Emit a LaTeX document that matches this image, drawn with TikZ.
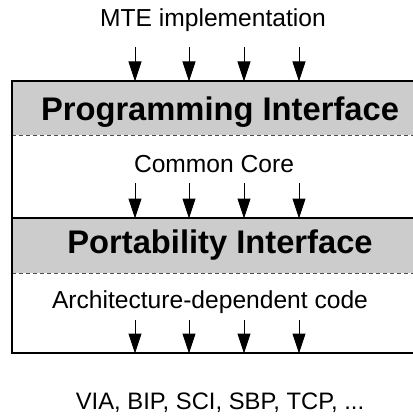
\documentclass[tikz,border=0pt]{standalone}
\usepackage{fontspec}
\setmainfont{Liberation Sans}
\usetikzlibrary{arrows.meta}
\definecolor{bandgray}{gray}{0.8}

\tikzset{
	label text/.style={anchor=base, inner sep=0pt, font=\fontsize{24.6}{28}\selectfont},
	layer text/.style={anchor=base, inner sep=0pt, font=\fontsize{32.7}{36}\selectfont\bfseries},
	flow/.style={-{Triangle[length=20pt,width=13pt]}, line width=1pt, shorten >=-0.5pt},
}

\begin{document}
\begin{tikzpicture}[x=1pt,y=-1pt]
\useasboundingbox (0,0) rectangle (412,417);
% bands
\fill[bandgray] (12,81) rectangle (416,135);
\fill[bandgray] (12,218) rectangle (416,273);
\draw[line width=1pt, black!70, dash pattern=on 4pt off 3pt] (12,135) -- (416,135);
\draw[line width=1pt, black!70, dash pattern=on 4pt off 3pt] (12,273) -- (416,273);
\draw[line width=1.6pt] (12,218) -- (416,218);
\draw[line width=2.2pt] (12,81) rectangle (416,353);
% texts
\node[label text] (mte) at (213,27) {MTE implementation};
\node[layer text] (prog) at (220,121) {Programming Interface};
\node[label text] (core) at (214,172) {Common Core};
\node[layer text] (port) at (220,253) {Portability Interface};
\node[label text] (arch) at (210,308) {Architecture-dependent code};
\node[label text, font=\fontsize{23.8}{28}\selectfont] (net) at (220,409) {VIA, BIP, SCI, SBP, TCP, ...};
% arrows
\foreach \x [count=\i] in {135,189,244,299}{
	\coordinate (a\i) at (\x,47);  \coordinate (b\i) at (\x,81);
	\coordinate (c\i) at (\x,183); \coordinate (d\i) at (\x,218);
	\coordinate (e\i) at (\x,320); \coordinate (f\i) at (\x,353);
	\draw[flow] (a\i) -- (b\i);
	\draw[flow] (c\i) -- (d\i);
	\draw[flow] (e\i) -- (f\i);
}
\end{tikzpicture}
\end{document}
